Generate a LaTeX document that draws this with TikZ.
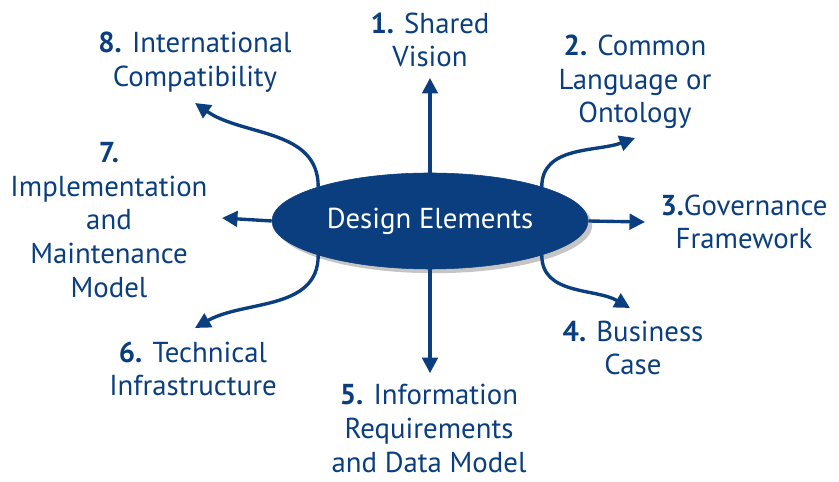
\documentclass[tikz,border=0pt]{standalone}
\usepackage{fontspec}
\setmainfont{PT Sans}
\usetikzlibrary{shapes.geometric,shadows,arrows.meta}
\definecolor{deblue}{RGB}{10,62,126}

\begin{document}
\begin{tikzpicture}[
	elem/.style={text=deblue, align=center, inner sep=0pt, font=\fontsize{20.5}{24}\selectfont},
	link/.style={deblue, line width=2.4pt, -{Triangle[length=11pt,width=11pt]}},
	hub/.style={ellipse, fill=deblue, draw=deblue, minimum width=7.9cm, minimum height=2.4cm, text=white,
		font=\fontsize{20.5}{24}\selectfont, drop shadow={shadow xshift=3pt, shadow yshift=-3pt, fill=black!45}}
	]
	\useasboundingbox (0,0) rectangle (20.975,12.05);
	
	\node[hub] (de) at (10.75,6.525) {Design Elements};
	
	\node[elem] (e1) at (10.75,11.05) {\textbf{1.} Shared\\Vision};
	\node[elem] (e2) at (15.875,10.0) {\textbf{2.} Common\\Language or\\Ontology};
	\node[elem] (e3) at (18.6,6.5) {\textbf{3.}Governance\\Framework};
	\node[elem] (e4) at (15.825,3.35) {\textbf{4.} Business\\Case};
	\node[elem] (e5) at (10.725,1.34) {\textbf{5.} Information\\Requirements\\and Data Model};
	\node[elem] (e6) at (4.825,2.825) {\textbf{6.} Technical\\Infrastructure};
	\node[elem] (e7) at (2.725,6.55) {\textbf{7.}\\Implementation\\and\\Maintenance\\Model};
	\node[elem] (e8) at (4.875,10.5) {\textbf{8.} International\\Compatibility};
	
	\coordinate (t1) at (10.75,10.1);
	\coordinate (t2) at (15.875,8.6);
	\coordinate (t3) at (16.125,6.5);
	\coordinate (t4) at (15.75,4.35);
	\coordinate (t5) at (10.75,2.72);
	\coordinate (t6) at (4.875,3.85);
	\coordinate (t7) at (5.55,6.6);
	\coordinate (t8) at (4.875,9.475);
	
	\draw[link] (de.north) -- (t1);
	\draw[link] (de.17) to[out=90,in=200] (t2);
	\draw[link] (de.east) -- (t3);
	\draw[link] (de.-17) to[out=-90,in=150] (t4);
	\draw[link] (de.south) -- (t5);
	\draw[link] (de.-163) to[out=-90,in=30] (t6);
	\draw[link] (de.west) -- (t7);
	\draw[link] (de.163) to[out=90,in=-35] (t8);
\end{tikzpicture}
\end{document}
